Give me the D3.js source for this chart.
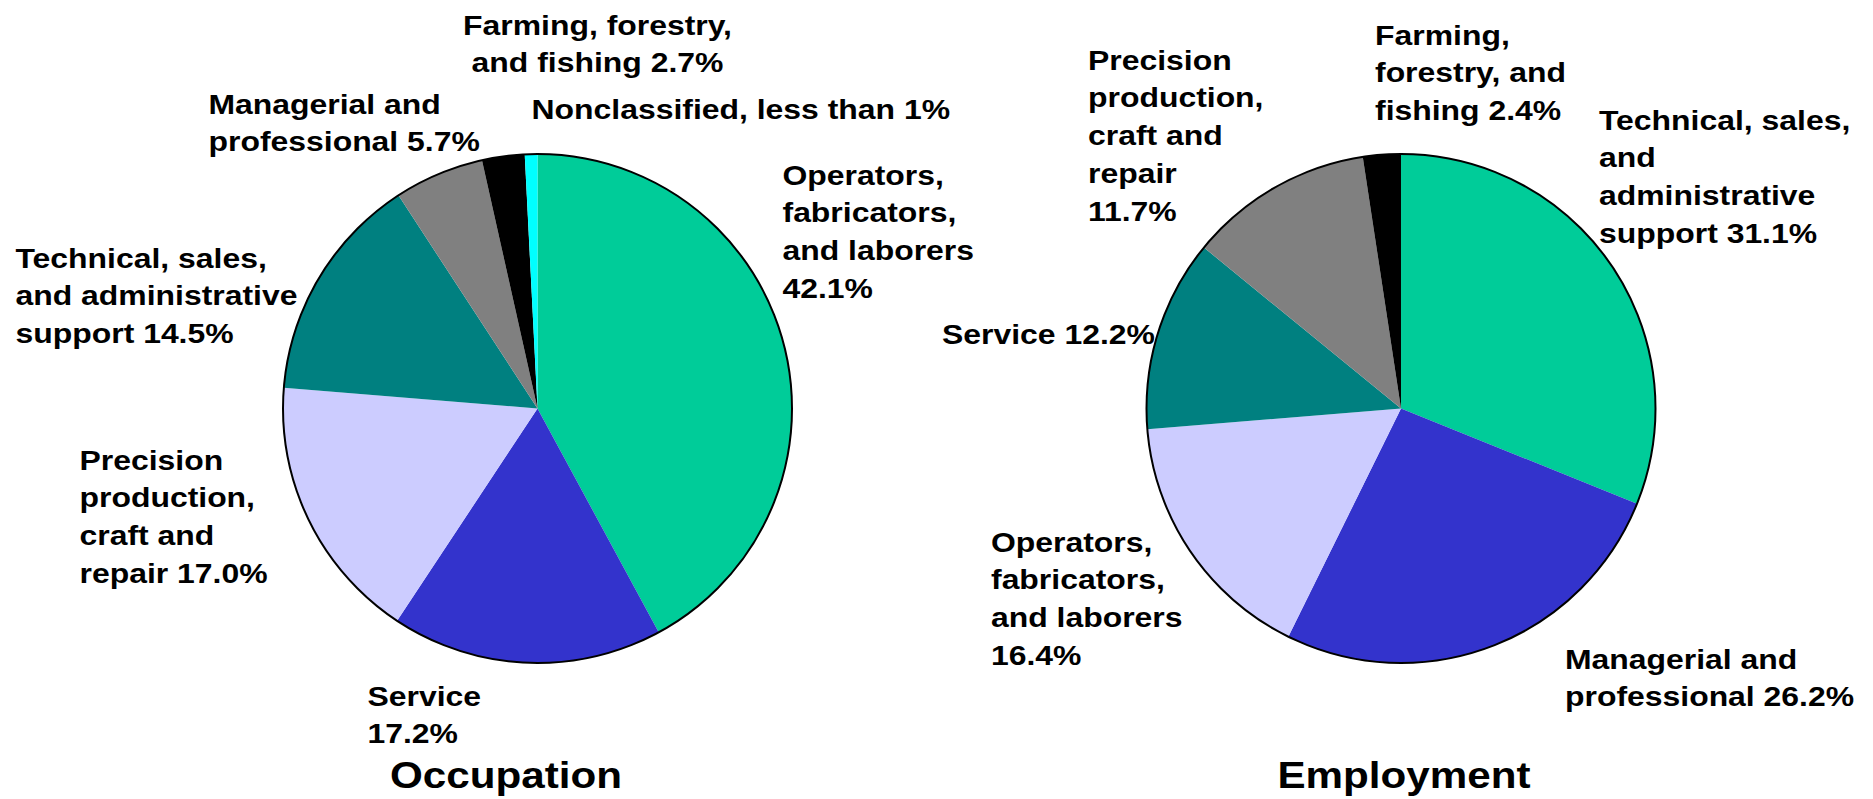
<!DOCTYPE html>
<html>
<head>
<meta charset="utf-8">
<script src="https://cdn.jsdelivr.net/npm/d3@7"></script>
<style>
  body { margin: 0; background: #fff; }
  text { font-family: "Liberation Sans", Arial, sans-serif; font-weight: bold; fill: #000; }
</style>
</head>
<body>
<div id="chart"></div>
<script>
// slices go clockwise from 12 o'clock
const occupationCategories = ['Operators, fabricators, and laborers', 'Service', 'Precision production, craft and repair',
    'Technical, sales, and administrative support', 'Managerial and professional', 'Farming, forestry, and fishing', 'Nonclassified']
const occupationValues = [42.1, 17.2, 17.0, 14.5, 5.7, 2.7, 0.8]
const occupationLabels = [
    ['Operators,', 'fabricators,', 'and laborers', '42.1%'],
    ['Service', '17.2%'],
    ['Precision', 'production,', 'craft and', 'repair 17.0%'],
    ['Technical, sales,', 'and administrative', 'support 14.5%'],
    ['Managerial and', 'professional 5.7%'],
    ['Farming, forestry,', 'and fishing 2.7%'],
    ['Nonclassified, less than 1%']
]

const employmentCategories = ['Technical, sales, and administrative support', 'Managerial and professional',
    'Operators, fabricators, and laborers', 'Service', 'Precision production, craft and repair', 'Farming, forestry, and fishing']
const employmentValues = [31.1, 26.2, 16.4, 12.2, 11.7, 2.4]
const employmentLabels = [
    ['Technical, sales,', 'and', 'administrative', 'support 31.1%'],
    ['Managerial and', 'professional 26.2%'],
    ['Operators,', 'fabricators,', 'and laborers', '16.4%'],
    ['Service 12.2%'],
    ['Precision', 'production,', 'craft and', 'repair', '11.7%'],
    ['Farming,', 'forestry, and', 'fishing 2.4%']
]

const sliceColors = ['#00cc99', '#3333cc', '#ccccff', '#008080', '#808080', '#000000', '#00ffff']

const width = 1873
const height = 799
const radius = 254.5
const lineStep = 37.8
const stretch = 1.14   // the text in the picture is a bit wider than plain Arial

// label spots, relative to each pie's centre (x, first baseline, anchor)
const occupationSpots = [
    [245, -224, 'start'], [-170, 297, 'start'], [-458, 61, 'start'],
    [-522, -141, 'start'], [-329, -295, 'start'], [60, -374, 'middle'], [-6, -290, 'start']
]
const employmentSpots = [
    [198, -279, 'start'], [164, 260, 'start'], [-410, 143, 'start'],
    [-459, -65, 'start'], [-313, -339, 'start'], [-26, -364, 'start']
]

const svg = d3.select('#chart')
    .append('svg')
    .attr('width', width)
    .attr('height', height)

const pie = d3.pie().sort(null).value(d => d)
const arc = d3.arc().innerRadius(0).outerRadius(radius)
const color = d3.scaleOrdinal().domain(d3.range(sliceColors.length)).range(sliceColors)

function drawPie(cx, cy, values, labels, spots, title, titleX) {
    const g = svg.append('g').attr('transform', `translate(${cx},${cy})`)

    g.selectAll('path.slice')
        .data(pie(values))
        .enter()
        .append('path')
        .attr('class', 'slice')
        .attr('d', arc)
        .attr('fill', (d, i) => color(i))

    g.append('circle')
        .attr('r', radius)
        .attr('fill', 'none')
        .attr('stroke', '#000')
        .attr('stroke-width', 2)

    labels.forEach((lines, i) => {
        const s = spots[i]
        const t = g.append('g')
            .attr('transform', `translate(${s[0]},${s[1]}) scale(${stretch},1)`)
            .append('text')
            .attr('text-anchor', s[2])
            .style('font-size', '28px')
        t.selectAll('tspan')
            .data(lines)
            .enter()
            .append('tspan')
            .attr('x', 0)
            .attr('y', (d, j) => j * lineStep)
            .text(d => d)
    })

    svg.append('g')
        .attr('transform', `translate(${titleX},788) scale(${stretch},1)`)
        .append('text')
        .attr('text-anchor', 'middle')
        .style('font-size', '37px')
        .text(title)
}

drawPie(537.5, 408.5, occupationValues, occupationLabels, occupationSpots, 'Occupation', 506)
drawPie(1401, 408.5, employmentValues, employmentLabels, employmentSpots, 'Employment', 1404)
</script>
</body>
</html>
